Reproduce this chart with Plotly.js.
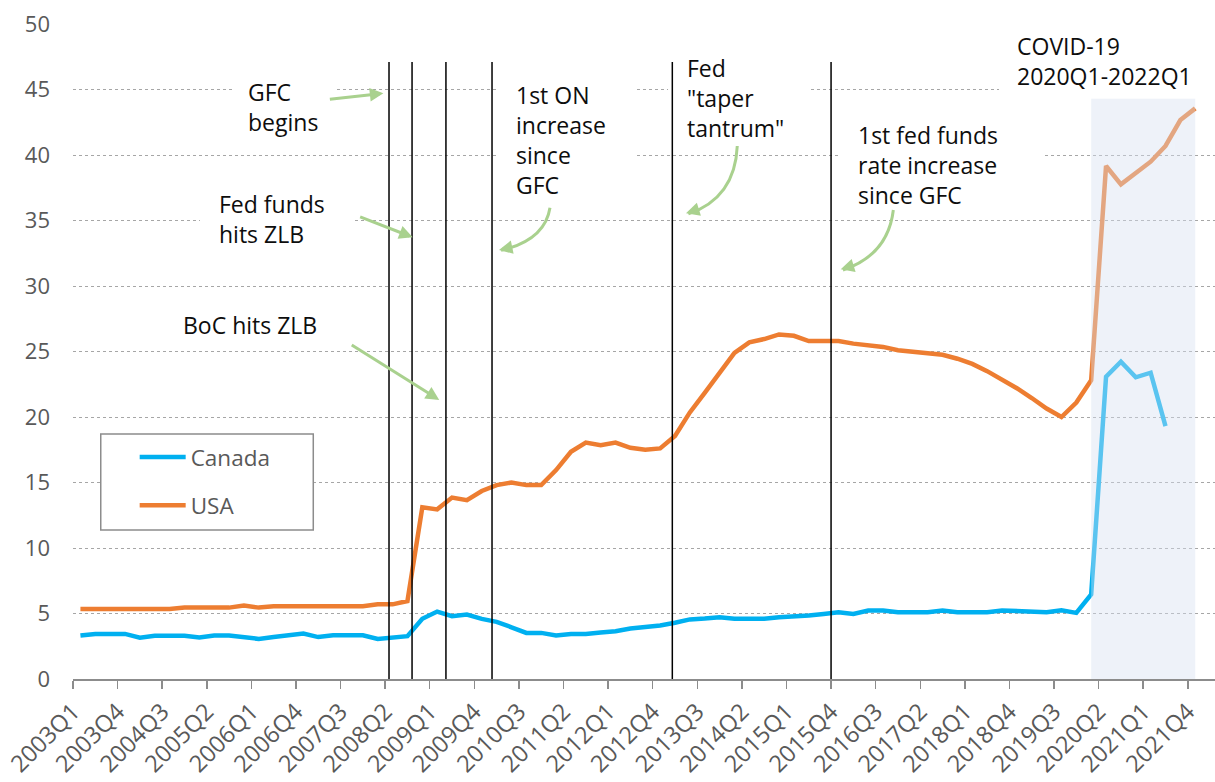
<!DOCTYPE html>
<html>
<head>
<meta charset="utf-8">
<script src="https://cdn.plot.ly/plotly-3.0.1.min.js"></script>
<style>
  html, body { margin: 0; padding: 0; background: #ffffff; }
  #chart { width: 1215px; height: 782px; }
</style>
</head>
<body>
<div id="chart"></div>
<script>
// ---- Data ----
const quarters = [
  "2003Q1","2003Q2","2003Q3","2003Q4","2004Q1","2004Q2","2004Q3","2004Q4",
  "2005Q1","2005Q2","2005Q3","2005Q4","2006Q1","2006Q2","2006Q3","2006Q4",
  "2007Q1","2007Q2","2007Q3","2007Q4","2008Q1","2008Q2","2008Q3","2008Q4",
  "2009Q1","2009Q2","2009Q3","2009Q4","2010Q1","2010Q2","2010Q3","2010Q4",
  "2011Q1","2011Q2","2011Q3","2011Q4","2012Q1","2012Q2","2012Q3","2012Q4",
  "2013Q1","2013Q2","2013Q3","2013Q4","2014Q1","2014Q2","2014Q3","2014Q4",
  "2015Q1","2015Q2","2015Q3","2015Q4","2016Q1","2016Q2","2016Q3","2016Q4",
  "2017Q1","2017Q2","2017Q3","2017Q4","2018Q1","2018Q2","2018Q3","2018Q4",
  "2019Q1","2019Q2","2019Q3","2019Q4","2020Q1","2020Q2","2020Q3","2020Q4",
  "2021Q1","2021Q2","2021Q3","2021Q4"
];

const canada = [
  3.32, 3.44, 3.44, 3.44, 3.15, 3.30, 3.30, 3.30,
  3.16, 3.32, 3.32, 3.20, 3.06, 3.20, 3.32, 3.47,
  3.20, 3.34, 3.34, 3.34, 3.06, 3.15, 3.27, 4.60,
  5.15, 4.80, 4.92, 4.59, 4.36, 3.95, 3.52, 3.52,
  3.32, 3.44, 3.44, 3.55, 3.65, 3.85, 3.95, 4.08,
  4.29, 4.55, 4.62, 4.72, 4.60, 4.60, 4.60, 4.72,
  4.75, 4.85, 4.97, 5.10, 4.97, 5.23, 5.23, 5.10,
  5.10, 5.10, 5.23, 5.10, 5.10, 5.10, 5.23, 5.20,
  5.10, 5.10, 5.25, 5.05, 6.45, 23.08, 24.22, 23.03,
  23.38, 19.31
];

const usa = [
  5.35, 5.35, 5.35, 5.35, 5.35, 5.35, 5.35, 5.45,
  5.45, 5.45, 5.45, 5.60, 5.45, 5.55, 5.55, 5.55,
  5.55, 5.55, 5.55, 5.55, 5.70, 5.70, 5.95, 13.10,
  12.95, 13.85, 13.65, 14.35, 14.80, 15.00, 14.80, 14.80,
  15.95, 17.35, 18.05, 17.85, 18.05, 17.65, 17.50, 17.60,
  18.55, 20.35, 21.85, 23.35, 24.90, 25.70, 25.95, 26.30,
  26.20, 25.80, 25.80, 25.80, 25.60, 25.50, 25.35, 25.10,
  25.00, 24.90, 24.75, 24.45, 24.05, 23.50, 22.85, 22.20,
  21.45, 20.65, 20.00, 21.10, 22.80, 39.16, 37.76, 38.60,
  39.49, 40.69, 42.67, 43.56
];

// event markers (position in quarter index units)
const eventNames = ["GFC begins", "Fed funds hits ZLB", "BoC hits ZLB",
                    "1st ON increase since GFC", "Fed taper tantrum",
                    "1st fed funds rate increase since GFC"];
const eventPos = [20.76, 22.31, 24.59, 27.69, 39.82, 50.5];
const eventTop = 47.1;

// COVID period (quarter indices)
const covidStart = quarters.indexOf("2020Q1");
const covidEnd = quarters.indexOf("2021Q4");

// ---- Build ----
const xIdx = quarters.map((q, i) => i);
const tickIdx = xIdx.filter(i => i % 3 === 0);

const FONT = "Open Sans, Noto Sans, sans-serif";
const GREEN = "#A9D18E";

const traces = [
  {
    x: xIdx.slice(0, canada.length), y: canada, name: "Canada",
    type: "scatter", mode: "lines", legendgroup: "ca",
    line: { color: "#00B0F0", width: 4.5 }, hoverinfo: "skip"
  },
  {
    x: xIdx.slice(0, usa.length), y: usa, name: "USA",
    type: "scatter", mode: "lines", legendgroup: "us",
    line: { color: "#ED7D31", width: 4.5 }, hoverinfo: "skip"
  }
];

const shapes = [];
// white boxes behind annotation texts (cover gridlines)
const whiteBoxes = [
  [10.26, 41.15, 17.19, 46.34],
  [8.04, 33.13, 18.27, 37.71],
  [28.16, 36.56, 37.44, 46.11],
  [39.53, 40.76, 49.08, 48.02],
  [51.1, 35.8, 64.76, 43.44],
  [61.8, 44.58, 78, 49.54]
];
whiteBoxes.forEach(b => shapes.push({
  type: "rect", xref: "x", yref: "y", x0: b[0], y0: b[1], x1: b[2], y1: b[3],
  fillcolor: "#ffffff", line: { width: 0 }, layer: "above"
}));
// vertical event lines
eventPos.forEach(p => shapes.push({
  type: "line", xref: "x", yref: "y", x0: p, x1: p, y0: 0, y1: eventTop,
  line: { color: "#000000", width: 1.5 }, layer: "above"
}));
// COVID shading
shapes.push({
  type: "rect", xref: "x", yref: "y", x0: covidStart, x1: covidEnd, y0: -0.3, y1: 44.3,
  fillcolor: "rgba(214,224,240,0.42)", line: { width: 0 }, layer: "above"
});
// curved arrows
const curves = [
  [31.59, 35.98, 31.25, 33.51, 28.30, 32.72],
  [44.19, 40.69, 44.04, 36.72, 40.90, 35.50],
  [54.69, 35.80, 54.33, 32.37, 51.30, 31.22]
];
curves.forEach(c => shapes.push({
  type: "path", xref: "x", yref: "y",
  path: `M${c[0]},${c[1]} Q${c[2]},${c[3]} ${c[4]},${c[5]}`,
  line: { color: GREEN, width: 3 }, layer: "above"
}));
// legend frame
shapes.push({
  type: "rect", xref: "paper", yref: "paper", x0: 0.0243, x1: 0.2104, y0: 0.2275, y1: 0.374,
  fillcolor: "#ffffff", line: { color: "#8c8c8c", width: 1.5 }, layer: "above"
});

const txt = (x, y, text) => ({
  x, y, xref: "x", yref: "y", text, showarrow: false,
  xanchor: "left", yanchor: "middle", align: "left", borderpad: 0,
  font: { family: FONT, size: 23, color: "#0d0d0d" }
});
const arrow = (x, y, ax, ay) => ({
  x, y, xref: "x", yref: "y", ax, ay, axref: "pixel", ayref: "pixel",
  text: "", showarrow: true, arrowhead: 2, arrowsize: 0.9, arrowwidth: 3,
  arrowcolor: GREEN, standoff: 0, startstandoff: 0
});

const annotations = [
  txt(11.21, 43.68, "GFC<br>begins"),
  txt(9.25, 35.11, "Fed funds<br>hits ZLB"),
  txt(6.83, 27.05, "BoC hits ZLB"),
  txt(29.24, 41.11, "1st ON<br>increase<br>since<br>GFC"),
  txt(40.74, 44.38, "Fed<br>\"taper<br>tantrum\""),
  txt(52.22, 39.23, "1st fed funds<br>rate increase<br>since GFC"),
  txt(62.94, 47.21, "COVID-19<br>2020Q1-2022Q1"),
  arrow(20.38, 44.71, -55, 6),
  arrow(22.35, 33.72, -54, -21),
  arrow(24.14, 21.30, -89, -56),
  arrow(28.16, 32.75, 12, -2.5),
  arrow(40.74, 35.55, 11.5, -3.6),
  arrow(51.15, 31.27, 11.5, -3.5)
];

const layout = {
  width: 1215, height: 782,
  margin: { l: 73, r: 0, t: 24, b: 103, pad: 0 },
  paper_bgcolor: "#ffffff", plot_bgcolor: "#ffffff",
  font: { family: FONT, color: "#595959" },
  showlegend: true,
  legend: {
    x: 0.054, y: 0.371, xanchor: "left", yanchor: "top",
    bgcolor: "rgba(0,0,0,0)", borderwidth: 0,
    font: { family: FONT, size: 22.5, color: "#595959" },
    tracegroupgap: 16, traceorder: "grouped", itemwidth: 46
  },
  xaxis: {
    type: "linear", range: [-0.5, 76.33],
    tickmode: "array",
    tickvals: tickIdx.map(i => i - 0.5),
    ticktext: tickIdx.map(i => quarters[i]),
    tickangle: -45,
    ticks: "outside", ticklen: 8, tickwidth: 1.5, tickcolor: "#8c8c8c",
    showline: true, linecolor: "#8c8c8c", linewidth: 1.5,
    showgrid: false, zeroline: false,
    tickfont: { family: FONT, size: 23.5, color: "#595959" },
    fixedrange: true
  },
  yaxis: {
    range: [0, 50], tickmode: "linear", tick0: 0, dtick: 5,
    showgrid: true, gridcolor: "#a6a6a6", griddash: "dot", gridwidth: 1,
    zeroline: false, showline: false, ticks: "",
    ticklabelstandoff: 22,
    tickfont: { family: FONT, size: 22, color: "#595959" },
    fixedrange: true
  },
  shapes, annotations
};

Plotly.newPlot("chart", traces, layout, { displayModeBar: false, staticPlot: true });
</script>
</body>
</html>
